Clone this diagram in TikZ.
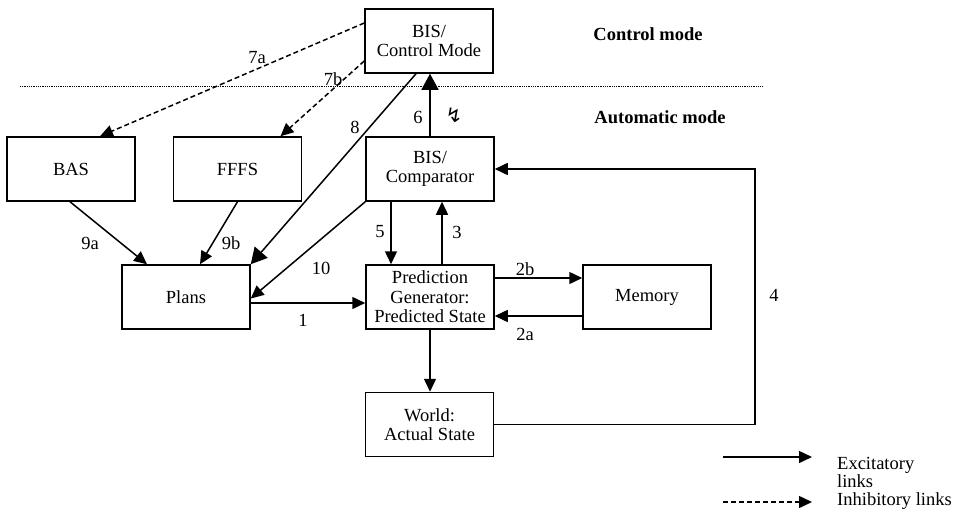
\documentclass[tikz,border=0pt]{standalone}
\usepackage{fontspec}
\setmainfont{Liberation Serif}
\newfontfamily\symfont{DejaVu Sans}
\usetikzlibrary{arrows.meta}
\begin{document}
\begin{tikzpicture}[x=1pt,y=-1pt,
  every node/.style={font=\fontsize{18.5}{19.5}\selectfont},
  box/.style={draw,line width=1.5pt,minimum width=128pt,minimum height=64pt,inner sep=0pt,align=center},
  lbl/.style={inner sep=0pt},
  exc/.style={line width=1.5pt,-{Triangle[length=13pt,width=12pt]}},
  excbig/.style={line width=1.5pt,-{Triangle[length=16pt,width=17pt]}},
  inh/.style={line width=1.5pt,dash pattern=on 5pt off 3pt,-{Triangle[length=13pt,width=12pt]}},
  modeline/.style={line width=1pt,dash pattern=on 1pt off 0.8pt},
  modelbl/.style={font=\fontsize{18.5}{19.5}\selectfont\bfseries,inner sep=0pt}]
\useasboundingbox (0,0) rectangle (962,509);

% boxes
\node[box] (cm)    at (429,41)    {BIS/\\Control Mode};
\node[box] (bas)   at (71,169)    {BAS};
\node[box] (fffs)  at (237.5,169) {FFFS};
\node[box] (comp)  at (430,169)   {BIS/\\Comparator};
\node[box] (plans) at (186,297)   {Plans};
\node[box] (pred)  at (430,297)   {Prediction\\Generator:\\Predicted State};
\node[box] (mem)   at (647,297)   {Memory};
\node[box] (world) at (429.5,424.5) {World:\\Actual State};

% separation between the two modes
\coordinate (dl1) at (20,86);
\coordinate (dl2) at (762,86);
\draw[modeline] (dl1) -- (dl2);
\node[modelbl] (ctl)  at (648,34)  {Control mode};
\node[modelbl] (auto) at (660,117) {Automatic mode};

% inhibitory links from the control mode
\draw[inh] ([yshift=18pt]cm.west) -- ([xshift=29pt]bas.north);
\draw[inh] ([yshift=-20pt]cm.west) -- ([xshift=43pt]fffs.north);
\node[lbl] (l7a) at (257,58) {7a};
\node[lbl] (l7b) at (333,79) {7b};

% excitatory links
\draw[excbig] ([xshift=-13pt]cm.south) -- (plans.north east);
\node[lbl] (l8) at (355,127) {8};
\draw[excbig] (comp.north) -- (comp.north |- cm.south);
\node[lbl] (l6) at (418,117) {6};
\node[lbl,font=\symfont\fontsize{20}{20}\selectfont] (bolt) at (454,115) {↯};

\draw[exc] ([xshift=-1pt]bas.south) -- ([xshift=-39pt]plans.north);
\node[lbl] (l9a) at (90,243) {9a};
\draw[exc] (fffs.south) -- ([xshift=14pt]plans.north);
\node[lbl] (l9b) at (231,243) {9b};

\draw[exc] (comp.south west) -- ([yshift=-1.5pt]plans.east);
\node[lbl] (l10) at (321,268) {10};

\draw[exc] ([xshift=-39pt]comp.south) -- ([xshift=-39pt]pred.north);
\node[lbl] (l5) at (380,232) {5};
\draw[exc] ([xshift=12pt]pred.north) -- ([xshift=12pt]comp.south);
\node[lbl] (l3) at (457,232) {3};

\draw[exc] ([yshift=-6pt]plans.east) -- ([yshift=-6pt]pred.west);
\node[lbl] (l1) at (303,320) {1};

\draw[exc] ([yshift=19pt]pred.east) -- ([yshift=19pt]mem.west);
\node[lbl] (l2b) at (525,269) {2b};
\draw[exc] ([yshift=-19pt]mem.west) -- ([yshift=-19pt]pred.east);
\node[lbl] (l2a) at (525,334) {2a};

\draw[exc] (pred.south) -- (pred.south |- world.north);

\coordinate (c4) at (755,300);
\draw[exc] (world.east) -- (world.east -| c4) |- (comp.east);
\node[lbl] (l4) at (774,295) {4};

% legend
\coordinate (e1) at (723,457);
\coordinate (e2) at (812,457);
\coordinate (i1) at (723,502);
\coordinate (i2) at (812,502);
\draw[exc] (e1) -- (e2);
\draw[inh] (i1) -- (i2);
\node[lbl,anchor=west,align=left,font=\fontsize{18.5}{18}\selectfont] (exctxt) at (837,472) {Excitatory\\links};
\node[lbl,anchor=west] (inhtxt) at (837,501) {Inhibitory links};
\end{tikzpicture}
\end{document}
